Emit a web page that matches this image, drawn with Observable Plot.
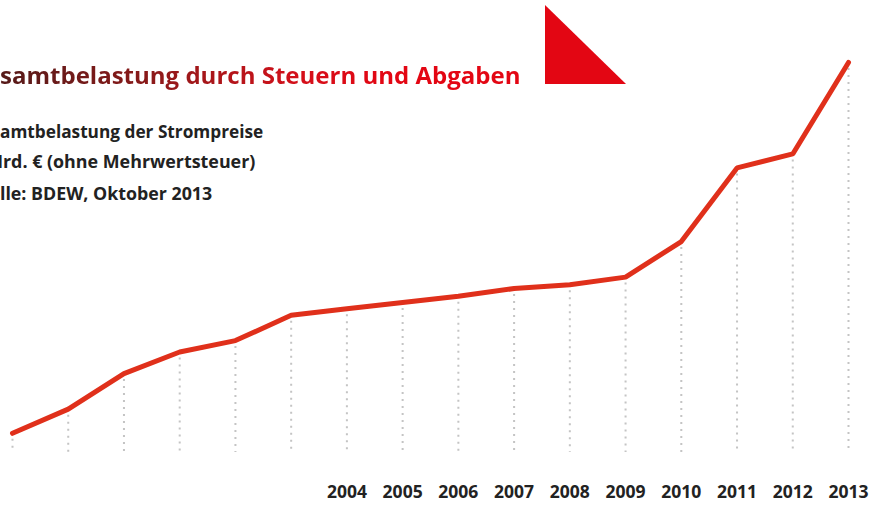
<!DOCTYPE html>
<html>
<head>
<meta charset="utf-8">
<script src="https://cdn.jsdelivr.net/npm/d3@7"></script>
<script src="https://cdn.jsdelivr.net/npm/@observablehq/plot@0.6"></script>
<style>
  html, body { margin: 0; padding: 0; background: #fff; overflow: hidden; }
  #wrap { position: relative; width: 880px; height: 506px; font-family: "Open Sans", sans-serif; overflow: hidden; }
  #chart { position: absolute; left: 0; top: 0; }
  .t { position: absolute; white-space: nowrap; line-height: 1; }
  #title { font-size: 23px; font-weight: 700; padding-bottom: 8px;
    background: linear-gradient(90deg, #4a1a18 0px, #8a1a1a 180px, #d4101a 330px, #e30613 420px);
    -webkit-background-clip: text; background-clip: text; color: transparent; }
  .sub { font-size: 15px; font-weight: 700; color: #222; }
  #tri { position: absolute; left: 545px; top: 5px; width: 81px; height: 79px; background: #e30613;
    clip-path: polygon(0 0, 0 100%, 100% 100%); }
</style>
</head>
<body>
<div id="wrap">
  <div id="chart"></div>
  <div id="tri"></div>
  <div class="t" id="title"><span class="pre">Ge</span>samtbelastung durch Steuern und Abgaben</div>
  <div class="t sub" id="s1"><span class="pre">Ges</span>amtbelastung der Strompreise</div>
  <div class="t sub" id="s2"><span class="pre">in M</span>rd. € (ohne Mehrwertsteuer)</div>
  <div class="t sub" id="s3"><span class="pre">Que</span>lle: BDEW, Oktober 2013</div>
</div>
<script>
const years = [1998,1999,2000,2001,2002,2003,2004,2005,2006,2007,2008,2009,2010,2011,2012,2013];
const values = [2.3,4.2,7.0,8.7,9.6,11.6,12.1,12.6,13.1,13.7,14.0,14.6,17.4,23.2,24.3,31.5];
const labelYears = [2004,2005,2006,2007,2008,2009,2010,2011,2012,2013];

const data = years.map((year, i) => ({year, value: values[i]}));

const chart = Plot.plot({
  width: 880,
  height: 506,
  marginLeft: 12,
  marginRight: 32,
  marginTop: 62,
  marginBottom: 44,
  style: { fontFamily: "Open Sans, sans-serif", background: "transparent" },
  x: { type: "linear", domain: [1998, 2013] },
  y: { domain: [0, 31.5], axis: null },
  marks: [
    Plot.ruleX(data, { x: "year", y1: "value", y2: 0, insetTop: 6, insetBottom: 10,
      stroke: "#c4c4c4", strokeWidth: 2, strokeDasharray: "2,5" }),
    Plot.line(data, { x: "year", y: "value", stroke: "#e0301b", strokeWidth: 5, strokeLinejoin: "miter" }),
    Plot.axisX({ ticks: labelYears, tickFormat: d => String(d), tickSize: 0, tickPadding: 23,
      fontSize: 17.5, fontWeight: "bold", fill: "#222", label: null })
  ]
});
document.getElementById("chart").appendChild(chart);

// fit the header lines: visible part ends at a given x, keep a given baseline
const fits = [
  { id: "title", right: 521, baseline: 84, f: 23, shift: 0 },
  { id: "s1", right: 263, baseline: 138, f: 15, shift: 0 },
  { id: "s2", right: 255, baseline: 169, f: 15, shift: 3 },
  { id: "s3", right: 213, baseline: 201, f: 15, shift: 0 }
];
function fit() {
  for (const o of fits) {
    const el = document.getElementById(o.id);
    el.style.fontSize = o.f + "px";
    el.style.left = "0px";
    const full = el.querySelector(".pre").parentNode.scrollWidth;
    const pre = el.querySelector(".pre").getBoundingClientRect().width;
    const s = (o.right - o.shift) / (full - pre);
    const nf = o.f * s;
    el.style.fontSize = nf + "px";
    el.style.left = (-pre * s + o.shift) + "px";
    el.style.top = (o.baseline - 0.888 * nf) + "px";
  }
}
fit();
if (document.fonts && document.fonts.ready) document.fonts.ready.then(fit);
</script>
</body>
</html>
